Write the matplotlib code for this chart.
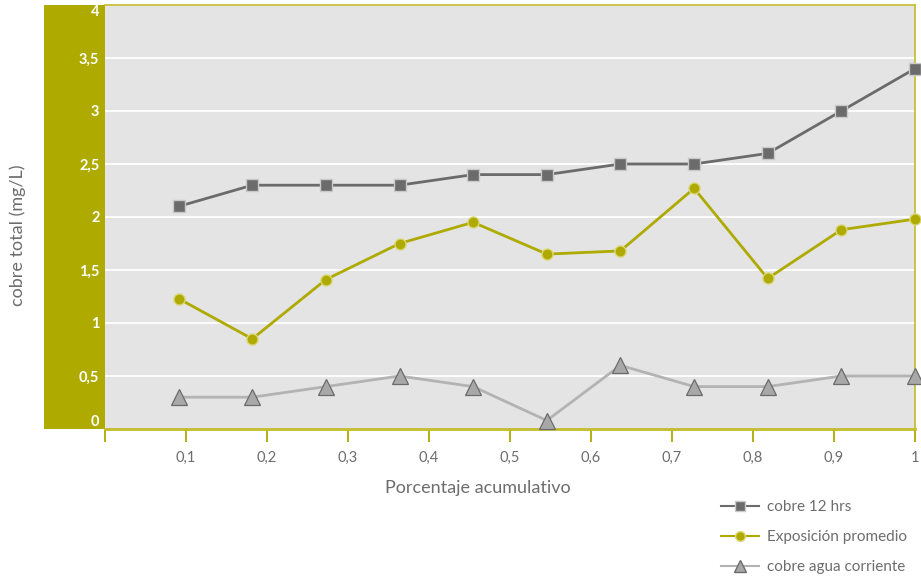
import matplotlib.pyplot as plt
from matplotlib.patches import Rectangle
from matplotlib.lines import Line2D

plt.rcParams["font.family"] = ["Lato", "DejaVu Sans"]

# cumulative share (k/11) and copper readings in mg/L
x_vals = [1/11, 2/11, 3/11, 4/11, 5/11, 6/11, 7/11, 8/11, 9/11, 10/11, 11/11]
cobre_12h = [2.1, 2.3, 2.3, 2.3, 2.4, 2.4, 2.5, 2.5, 2.6, 3.0, 3.4]
exposicion = [1.23, 0.85, 1.41, 1.75, 1.95, 1.65, 1.68, 2.27, 1.42, 1.88, 1.98]
agua_corriente = [0.3, 0.3, 0.4, 0.5, 0.4, 0.08, 0.6, 0.4, 0.4, 0.5, 0.5]

x_ticks = [0, 0.1, 0.2, 0.3, 0.4, 0.5, 0.6, 0.7, 0.8, 0.9, 1.0]
x_labels = ["", "0,1", "0,2", "0,3", "0,4", "0,5", "0,6", "0,7", "0,8", "0,9", "1"]
y_ticks = [0, 0.5, 1, 1.5, 2, 2.5, 3, 3.5, 4]
y_labels = ["0", "0,5", "1", "1,5", "2", "2,5", "3", "3,5", "4"]

OLIVE = "#aeaa00"
DARK = "#6b6b6b"
LIGHT = "#b3b3b3"
TEXT = "#6d6d6d"

W, H = 921, 586
fig = plt.figure(figsize=(W / 100, H / 100), dpi=100)
ax = fig.add_axes([105 / W, 157 / H, 810 / W, 424 / H])
ax.set_facecolor("#e3e4e3")
ax.set_zorder(2)

# olive band behind the y tick labels
fig.patches.append(Rectangle((44 / W, 157 / H), 61 / W, 424 / H,
                             transform=fig.transFigure, facecolor=OLIVE,
                             edgecolor="none", zorder=0))

ax.set_xlim(0, 1)
ax.set_ylim(0, 4)
ax.set_yticks(y_ticks)
ax.set_yticklabels(y_labels)
ax.set_xticks(x_ticks)
ax.set_xticklabels(x_labels)
for yv in y_ticks[1:]:
    ax.axhline(yv, color="white", lw=1.3, zorder=1)

ax.tick_params(axis="y", length=0, pad=4, labelcolor="white", labelsize=10.5)
ylbls = ax.get_yticklabels()
for lbl in ylbls:
    lbl.set_fontweight("bold")
# keep the end labels inside the band
ylbls[0].set_va("bottom")
ylbls[-1].set_va("top")
ax.tick_params(axis="x", length=9, width=1.3, color=OLIVE, pad=7,
               labelcolor=TEXT, labelsize=10.5)

for side in ["bottom", "top", "right"]:
    ax.spines[side].set_color("#c2bd2a")
ax.spines["bottom"].set_linewidth(2.0)
ax.spines["top"].set_linewidth(1.2)
ax.spines["right"].set_linewidth(1.2)
ax.spines["left"].set_visible(False)

ax.plot(x_vals, cobre_12h, color=DARK, lw=2.0, marker="s", ms=9,
        mfc=DARK, mec="#c9c9c9", mew=1.0, zorder=4, clip_on=False)
ax.plot(x_vals, exposicion, color=OLIVE, lw=2.0, marker="o", ms=8,
        mfc=OLIVE, mec="#dcd77a", mew=1.0, zorder=4, clip_on=False)
ax.plot(x_vals, agua_corriente, color=LIGHT, lw=2.0, marker="^", ms=11,
        mfc="#a8a8a8", mec=DARK, mew=0.9, zorder=4, clip_on=False)

fig.text(18 / W, 1 - 235 / H, "cobre total (mg/L)", rotation=90,
         ha="center", va="center", fontsize=13, color=TEXT)
fig.text(478 / W, 1 - 488 / H, "Porcentaje acumulativo",
         ha="center", va="center", fontsize=13, color=TEXT)

handles = [
    Line2D([], [], color=DARK, lw=1.5, marker="s", ms=7, mfc=DARK, mec="#c9c9c9"),
    Line2D([], [], color=OLIVE, lw=1.5, marker="o", ms=7, mfc=OLIVE, mec="#dcd77a"),
    Line2D([], [], color=LIGHT, lw=1.5, marker="^", ms=8, mfc="#a8a8a8", mec=DARK),
]
labels = ["cobre 12 hrs", "Exposición promedio", "cobre agua corriente"]
leg = fig.legend(handles, labels, loc="upper left",
                 bbox_to_anchor=(715 / W, 1 - 494 / H), frameon=False,
                 fontsize=11, handlelength=2.5, handletextpad=0.5,
                 labelspacing=1.05, borderaxespad=0)
for t in leg.get_texts():
    t.set_color(TEXT)

fig.savefig("out.png", dpi=100)
